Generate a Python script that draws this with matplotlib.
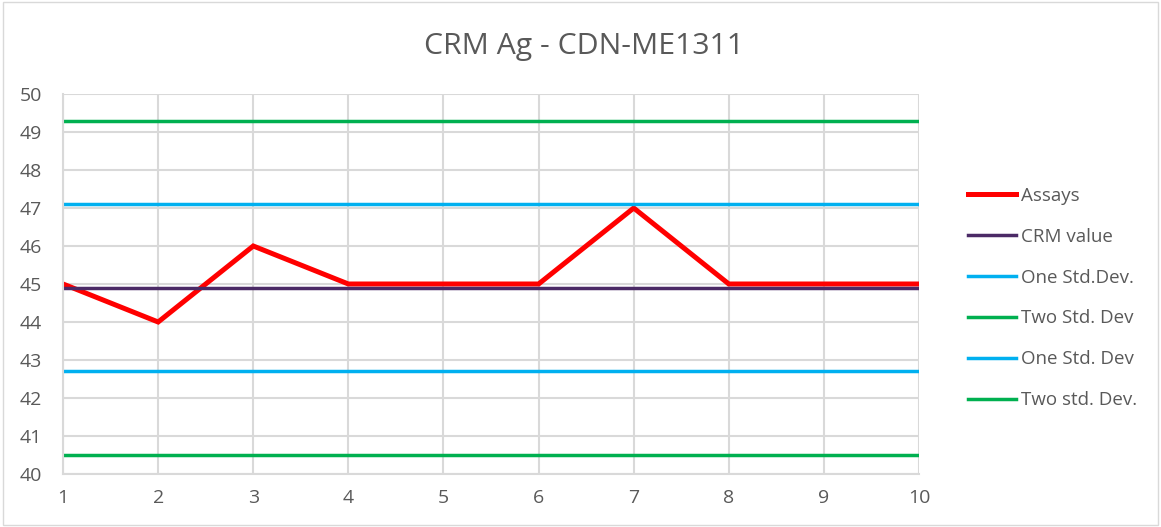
import matplotlib.pyplot as plt
from matplotlib.patches import Rectangle

plt.rcParams['font.family'] = ['Open Sans', 'DejaVu Sans']

runs = [1, 2, 3, 4, 5, 6, 7, 8, 9, 10]
assays = [45, 44, 46, 45, 45, 45, 47, 45, 45, 45]
crm_value = 44.9
one_sd_hi = 47.1
two_sd_hi = 49.3
one_sd_lo = 42.7
two_sd_lo = 40.5

fig = plt.figure(figsize=(11.61, 5.27), dpi=100)
ax = fig.add_axes([0.0543, 0.1006, 0.7373, 0.721])

ax.plot(runs, assays, color='#ff0000', lw=3.6, label='Assays', solid_joinstyle='miter')
ax.plot(runs, [crm_value] * len(runs), color='#4b2a66', lw=2.5, label='CRM value')
ax.plot(runs, [one_sd_hi] * len(runs), color='#00b0f0', lw=2.5, label='One Std.Dev.')
ax.plot(runs, [two_sd_hi] * len(runs), color='#00b050', lw=2.5, label='Two Std. Dev')
ax.plot(runs, [one_sd_lo] * len(runs), color='#00b0f0', lw=2.5, label='One Std. Dev')
ax.plot(runs, [two_sd_lo] * len(runs), color='#00b050', lw=2.5, label='Two std. Dev.')

ax.set_xlim(1, 10)
ax.set_ylim(40, 50)
ax.set_xticks(runs)
ax.set_yticks(range(40, 51))
ax.grid(True, color='#d9d9d9', lw=1.5)
ax.set_axisbelow(True)
for s in ['top', 'right']:
    ax.spines[s].set_visible(False)
ax.spines['left'].set_color('#d9d9d9')
ax.spines['bottom'].set_color('#d9d9d9')
ax.spines['left'].set_linewidth(1.5)
ax.spines['bottom'].set_linewidth(1.5)
ax.tick_params(length=0, labelsize=14, labelcolor='#595959')
ax.tick_params(axis='y', pad=15)
ax.tick_params(axis='x', pad=11)

fig.suptitle('CRM Ag - CDN-ME1311', x=0.503, y=0.912, va='center',
             fontsize=21.7, color='#595959')

ax.legend(loc='center left', bbox_to_anchor=(1.037, 0.463), frameon=False,
          fontsize=13.5, labelcolor='#595959', handlelength=2.6, handletextpad=0.25,
          labelspacing=1.22)

fig.patches.append(Rectangle((0.003, 0.003), 0.994, 0.994, transform=fig.transFigure,
                             fill=False, edgecolor='#d9d9d9', lw=1))

fig.savefig('out.png', dpi=100)
